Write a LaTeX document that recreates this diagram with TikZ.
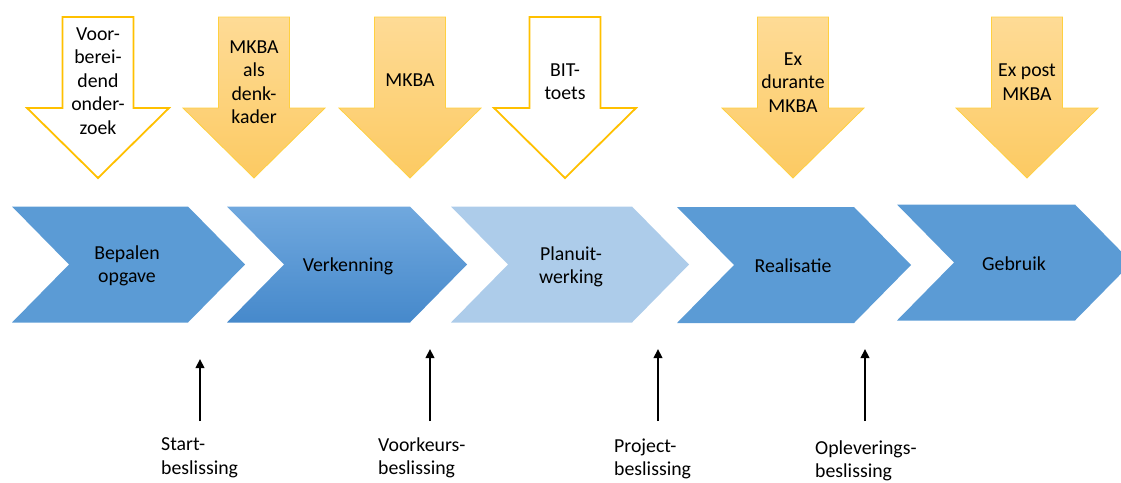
\documentclass[tikz,border=0pt]{standalone}
\usepackage{fontspec}
\setmainfont{Carlito}
\usepackage{tikz}
\usetikzlibrary{arrows.meta,positioning}
\definecolor{phaseblue}{HTML}{5B9BD5}
\definecolor{phasepale}{HTML}{ADCCEA}
\definecolor{phasetop}{HTML}{70A8DE}
\definecolor{phasebot}{HTML}{4689CB}
\definecolor{kbagold}{HTML}{FFC000}
\definecolor{kbatop}{HTML}{FEDB96}
\definecolor{kbabot}{HTML}{FCCA62}
% down arrow centred at x: stem 71 wide, head 142 wide
\newcommand{\kbaarrow}[2]{%
  \path[#2] (#1-35.5,17) -- (#1+35.5,17) -- (#1+35.5,108) -- (#1+71,108)
    -- (#1,178) -- (#1-71,108) -- (#1-35.5,108) -- cycle;}
% chevron: left x, right x, middle y
\newcommand{\phasechevron}[4]{%
  \path[#4] (#1,#3-58) -- (#2,#3-58) -- (#2+57,#3) -- (#2,#3+58)
    -- (#1,#3+58) -- (#1+57,#3) -- cycle;}

\begin{document}
\begin{tikzpicture}[
  x=1pt, y=-1pt,
  font=\fontsize{19.8}{23.5}\selectfont,
  openarr/.style={fill=white, draw=kbagold, line width=1.8pt, line join=miter},
  goldarr/.style={top color=kbatop, bottom color=kbabot, draw=kbagold!75, line width=0.8pt},
  phase/.style={fill=phaseblue},
  phaselit/.style={top color=phasetop, bottom color=phasebot},
  phasefaint/.style={fill=phasepale},
  txt/.style={align=center, inner sep=0pt},
  lbl/.style={align=left, inner sep=0pt, anchor=west},
  dec/.style={line width=2.3pt, -{Triangle[length=9pt,width=8.5pt]}}
]
\clip (0,0) rectangle (1121,482);

\kbaarrow{98}{openarr}
\kbaarrow{254}{goldarr}
\kbaarrow{410}{goldarr}
\kbaarrow{565}{openarr}
\kbaarrow{793}{goldarr}
\kbaarrow{1027}{goldarr}

\node[txt] (vo) at (98,81) {Voor-\\berei-\\dend\\onder-\\zoek};
\node[txt] (dk) at (254,82) {MKBA\\als\\denk-\\kader};
\node[txt] (mk) at (410,80) {MKBA};
\node[txt] (bit) at (565,81.5) {BIT-\\toets};
\node[txt] (exd) at (793,82.5) {Ex\\durante\\MKBA};
\node[txt] (exp) at (1027,82) {Ex post\\MKBA};

\phasechevron{12}{188}{264.5}{phase}
\phasechevron{227}{410}{264.5}{phaselit}
\phasechevron{451}{632}{264.5}{phasefaint}
\phasechevron{677}{854}{265}{phase}
\phasechevron{897}{1075}{262.5}{phase}

\node[txt] (bep) at (127,266) {Bepalen\\opgave};
\node[txt] (ver) at (348,266) {Verkenning};
\node[txt] (plan) at (571,267) {Planuit-\\werking};
\node[txt] (real) at (793,266) {Realisatie};
\node[txt] (geb) at (1014,264) {Gebruik};

\coordinate (sb) at (200,421); \coordinate (st) at (200,359);
\coordinate (vb) at (430,421); \coordinate (vt) at (430,349);
\coordinate (pb) at (658,421); \coordinate (pt) at (658,349);
\coordinate (ob) at (865,421); \coordinate (ot) at (865,349);
\draw[dec] (sb)--(st); \draw[dec] (vb)--(vt);
\draw[dec] (pb)--(pt); \draw[dec] (ob)--(ot);

\node[lbl] (sbl) at (161,458) {Start-\\beslissing};
\node[lbl] (vbl) at (378,458) {Voorkeurs-\\beslissing};
\node[lbl] (pbl) at (614,459) {Project-\\beslissing};
\node[lbl] (obl) at (815,461) {Opleverings-\\beslissing};
\end{tikzpicture}
\end{document}
